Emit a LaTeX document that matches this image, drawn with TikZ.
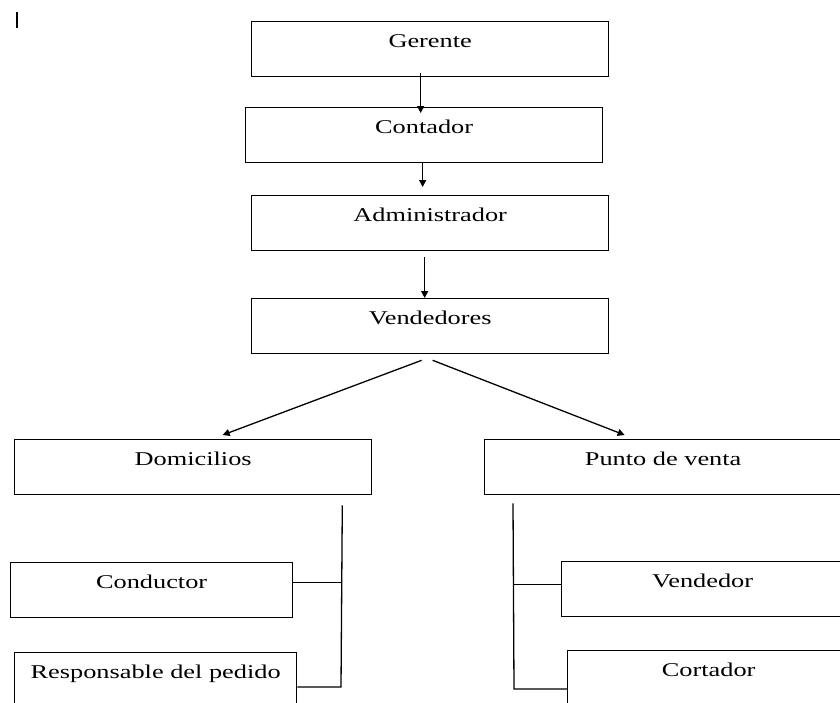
\documentclass[tikz,border=0pt]{standalone}
\usepackage{fontspec}
\setmainfont{Liberation Serif}[FakeStretch=1.35]
\usetikzlibrary{arrows.meta}

\begin{document}
\begin{tikzpicture}[x=1pt, y=-1pt, line width=1.3pt,
  font=\fontsize{19.5}{23}\selectfont,
  box/.style={draw, anchor=north west, minimum height=55pt, inner sep=0pt, text height=26pt, text depth=29pt},
  wide/.style={box, minimum width=357pt},
  narrow/.style={box, minimum width=282pt},
  ar/.style={-{Triangle[length=7pt, width=7pt]}}]

\useasboundingbox (0,0) rectangle (840,702);
\fill[white] (0,0) rectangle (840,702);
\clip (0,0) rectangle (840,702);

\draw[line width=1.5pt] (17,12) -- (17,28);

\node[wide] (gerente) at (251,21) {Gerente};
\node[wide] (contador) at (245,107) {Contador};
\node[wide] (admin) at (251,195) {Administrador};
\node[wide] (vendedores) at (251,298) {Vendedores};
\node[wide] (domicilios) at (14,439) {Domicilios};
\node[wide] (punto) at (484,439) {Punto de venta};
\node[narrow] (conductor) at (10,562) {Conductor};
\node[narrow] (responsable) at (14,652) {Responsable del pedido};
\node[narrow] (vendedor) at (561,561) {Vendedor};
\node[narrow] (cortador) at (567,650) {Cortador};

\draw[ar] ([xshift=-9.5pt, yshift=4pt]gerente.south) -- ([xshift=-3.5pt, yshift=-6pt]contador.north);
\draw[ar] ([xshift=-1.5pt]contador.south) -- ([xshift=-7.5pt, yshift=8pt]admin.north);
\draw[ar] ([xshift=-5.5pt, yshift=-6pt]admin.south) -- ([xshift=-5.5pt]vendedores.north);
\draw[ar] ([xshift=-8.5pt, yshift=-6pt]vendedores.south) -- ([xshift=29.5pt, yshift=4pt]domicilios.north);
\draw[ar] ([xshift=2.5pt, yshift=-6pt]vendedores.south) -- ([xshift=-38.5pt, yshift=4pt]punto.north);

% domicilios branch
\coordinate (dtop) at ([xshift=-30pt, yshift=-10pt]domicilios.south east);
\coordinate (dbot) at (341,687);
\draw (dtop) -- (dbot) -- (dbot -| responsable.east);
\draw ([yshift=8pt]conductor.east) -- ([yshift=8pt]conductor.east -| dtop);

% punto de venta branch
\coordinate (ptop) at ([xshift=29pt, yshift=-8pt]punto.south west);
\coordinate (pbot) at (514,689);
\draw (ptop) -- (pbot) -- (pbot -| cortador.west);
\draw ([yshift=5pt]vendedor.west) -- ([yshift=5pt]vendedor.west -| ptop);
\end{tikzpicture}
\end{document}
